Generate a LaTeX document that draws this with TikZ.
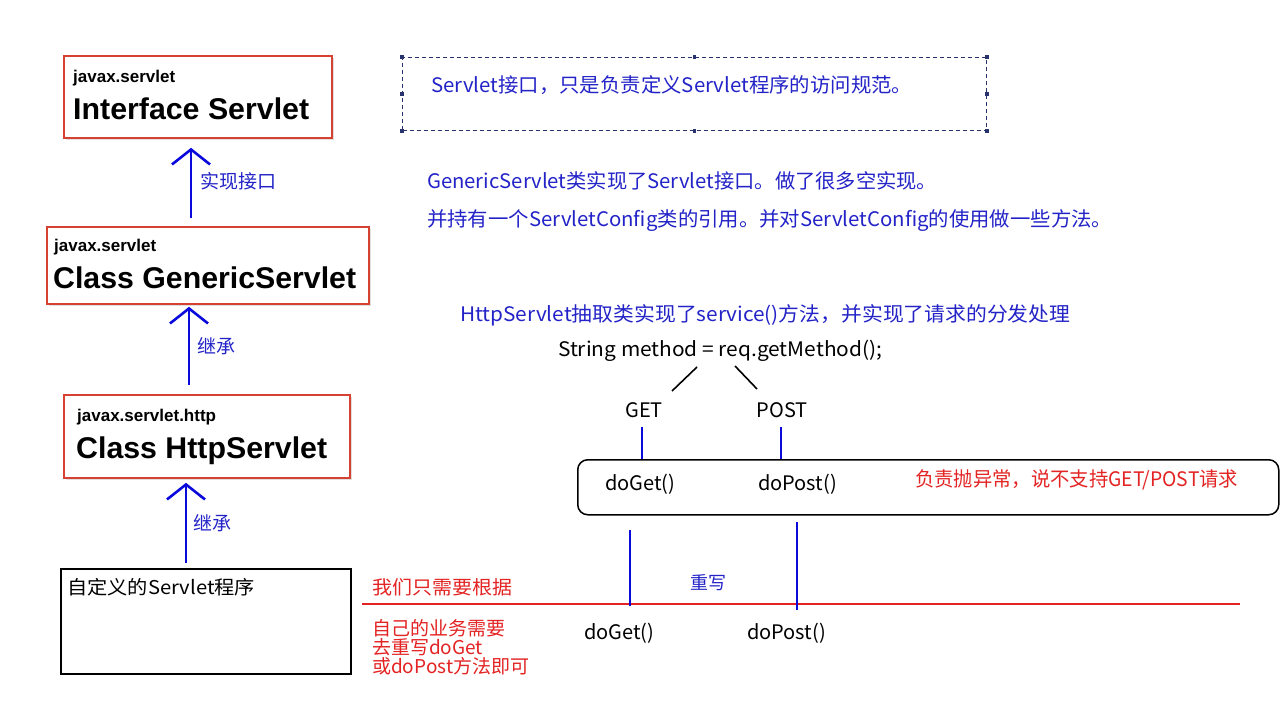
\documentclass[tikz,border=0pt]{standalone}
\usepackage{fontspec}
\usepackage{graphicx}
\setmainfont{Liberation Sans}
\newfontfamily\cjk{Noto Sans CJK SC}
\usetikzlibrary{arrows.meta,shadows}
\definecolor{redbox}{RGB}{215,65,50}
\definecolor{bluetext}{RGB}{35,35,200}
\definecolor{arrowblue}{RGB}{10,10,220}
\definecolor{redtext}{RGB}{228,35,35}
\definecolor{dashblue}{RGB}{40,50,110}
\newcommand\fitto[2]{\resizebox{#1}{\height}{#2}}
\begin{document}
\begin{tikzpicture}[x=1pt,y=-1pt,
  classbox/.style={draw=redbox, line width=1.8pt, fill=white, anchor=north west, inner sep=0pt,
    drop shadow={shadow xshift=2pt, shadow yshift=-2pt, opacity=0.25}},
  custbox/.style={draw=black, line width=2.4pt, anchor=north west, inner sep=0pt},
  pkg/.style={anchor=base west, inner sep=0pt, font=\fontsize{17}{20}\selectfont\bfseries},
  ttl/.style={anchor=base west, inner sep=0pt, font=\fontsize{30}{36}\selectfont\bfseries},
  arr/.style={draw=arrowblue, line width=2.6pt, -{Straight Barb[length=15pt,width=38pt]}},
  lbl/.style={anchor=west, inner sep=0pt, text=bluetext, font=\cjk\fontsize{19}{19}\selectfont},
  note/.style={anchor=west, inner sep=0pt, text=bluetext, font=\cjk\fontsize{20}{24}\selectfont},
  codetxt/.style={anchor=west, inner sep=0pt, text=black, font=\cjk\fontsize{20}{24}\selectfont},
  rednote/.style={anchor=west, inner sep=0pt, text=redtext, font=\cjk\fontsize{19}{19}\selectfont},
  redlines/.style={anchor=north west, inner sep=0pt, text=redtext, align=left, font=\cjk\fontsize{19}{19}\selectfont},
  bline/.style={draw=arrowblue, line width=2pt},
  thinb/.style={draw=arrowblue, line width=1.4pt},
  blk/.style={draw=black, line width=1.6pt}
]
\useasboundingbox (0,0) rectangle (1288,717);
\fill[white] (0,0) rectangle (1288,717);

% ---------- class boxes ----------
\node[classbox, minimum width=268pt, minimum height=82pt] (iface) at (63,55) {};
\node[pkg] (ifacepkg) at (73,83) {javax.servlet};
\node[ttl] (ifacettl) at (73,119) {\fitto{236pt}{Interface Servlet}};

\node[classbox, minimum width=322pt, minimum height=77pt] (gen) at (46,226) {};
\node[pkg] (genpkg) at (54,251) {javax.servlet};
\node[ttl] (genttl) at (53,288) {\fitto{303pt}{Class GenericServlet}};

\node[classbox, minimum width=286pt, minimum height=83pt] (http) at (63,394) {};
\node[pkg] (httppkg) at (77,421) {javax.servlet.http};
\node[ttl] (httpttl) at (76,458) {\fitto{251pt}{Class HttpServlet}};

\node[custbox, minimum width=290pt, minimum height=105pt] (cust) at (60,568) {};
\node[anchor=west, inner sep=0pt, font=\cjk\fontsize{19}{19}\selectfont] (custtxt) at (67,587) {\fitto{188pt}{自定义的Servlet程序}};

% ---------- inheritance arrows ----------
\coordinate (ax1) at (191,0);
\coordinate (ax2) at (189,0);
\coordinate (ax3) at (186,0);
\draw[arr, shorten <=8pt, shorten >=9pt] (gen.north -| ax1) -- (iface.south -| ax1);
\draw[arr, shorten <=9pt, shorten >=2pt] (http.north -| ax2) -- (gen.south -| ax2);
\draw[arr, shorten <=5pt, shorten >=4pt] (cust.north -| ax3) -- (http.south -| ax3);
\node[lbl] (l1) at (200,181) {实现接口};
\node[lbl] (l2) at (197,346) {继承};
\node[lbl] (l3) at (193,523) {继承};

% ---------- dashed note ----------
\node[draw=dashblue, dashed, dash pattern=on 4pt off 3pt, line width=1.1pt, anchor=north west,
      minimum width=584pt, minimum height=73pt, inner sep=0pt] (spec) at (402,57) {};
\foreach \a in {north west,north,north east,east,south east,south,south west,west}
  \fill[dashblue] (spec.\a) ++(-1.8,-1.8) rectangle ++(3.6,3.6);
\node[note] (t1) at (431,85) {\fitto{481pt}{Servlet接口，只是负责定义Servlet程序的访问规范。}};

\node[note] (t2) at (427,181) {\fitto{510pt}{GenericServlet类实现了Servlet接口。做了很多空实现。}};
\node[note] (t3) at (427,221) {\fitto{685pt}{并持有一个ServletConfig类的引用。并对ServletConfig的使用做一些方法。}};

\node[note] (t4) at (460,315) {\fitto{610pt}{HttpServlet抽取类实现了service()方法，并实现了请求的分发处理}};
\node[codetxt] (method) at (558,351) {\fitto{324pt}{String method = req.getMethod();}};

% ---------- GET / POST ----------
\node[codetxt, anchor=center] (get) at (644,410) {GET};
\node[codetxt, anchor=center] (post) at (782,410) {POST};
\coordinate (d1a) at (697,367); \coordinate (d1b) at (672,391);
\coordinate (d2a) at (735,366); \coordinate (d2b) at (757,389);
\draw[blk] (d1a) -- (d1b);
\draw[blk] (d2a) -- (d2b);

\node[draw=black, line width=1.5pt, rounded corners=10pt, anchor=north west,
      minimum width=701pt, minimum height=55pt, inner sep=0pt] (rbox) at (577,459) {};
\coordinate (gx) at (642,0);
\coordinate (px) at (781,0);
\draw[bline] ([yshift=-9pt]get.south -| gx) -- (rbox.north -| gx);
\draw[bline] ([yshift=-9pt]post.south -| px) -- (rbox.north -| px);

\node[codetxt] (doget1) at (605,484) {doGet()};
\node[codetxt] (dopost1) at (758,484) {doPost()};
\node[rednote, font=\cjk\fontsize{20}{24}\selectfont] (exc) at (915,480) {\fitto{323pt}{负责抛异常，说不支持GET/POST请求}};

% ---------- override part ----------
\coordinate (rl1) at (362,604);
\coordinate (rl2) at (1240,604);
\draw[draw=redtext, line width=1.5pt] (rl1) -- (rl2);

\coordinate (o1a) at (630,530); \coordinate (o1b) at (630,606);
\coordinate (o2a) at (797,522); \coordinate (o2b) at (797,610);
\draw[thinb] (o1a) -- (o1b);
\draw[thinb] (o2a) -- (o2b);
\node[lbl, font=\cjk\fontsize{18}{18}\selectfont] (ovr) at (690,583) {重写};

\node[rednote] (r1) at (372,587) {\fitto{140pt}{我们只需要根据}};
\node[redlines] (r2) at (372,619) {自己的业务需要\\去重写doGet\\或doPost方法即可};

\node[codetxt] (doget2) at (584,633) {doGet()};
\node[codetxt] (dopost2) at (747,633) {doPost()};
\end{tikzpicture}
\end{document}
